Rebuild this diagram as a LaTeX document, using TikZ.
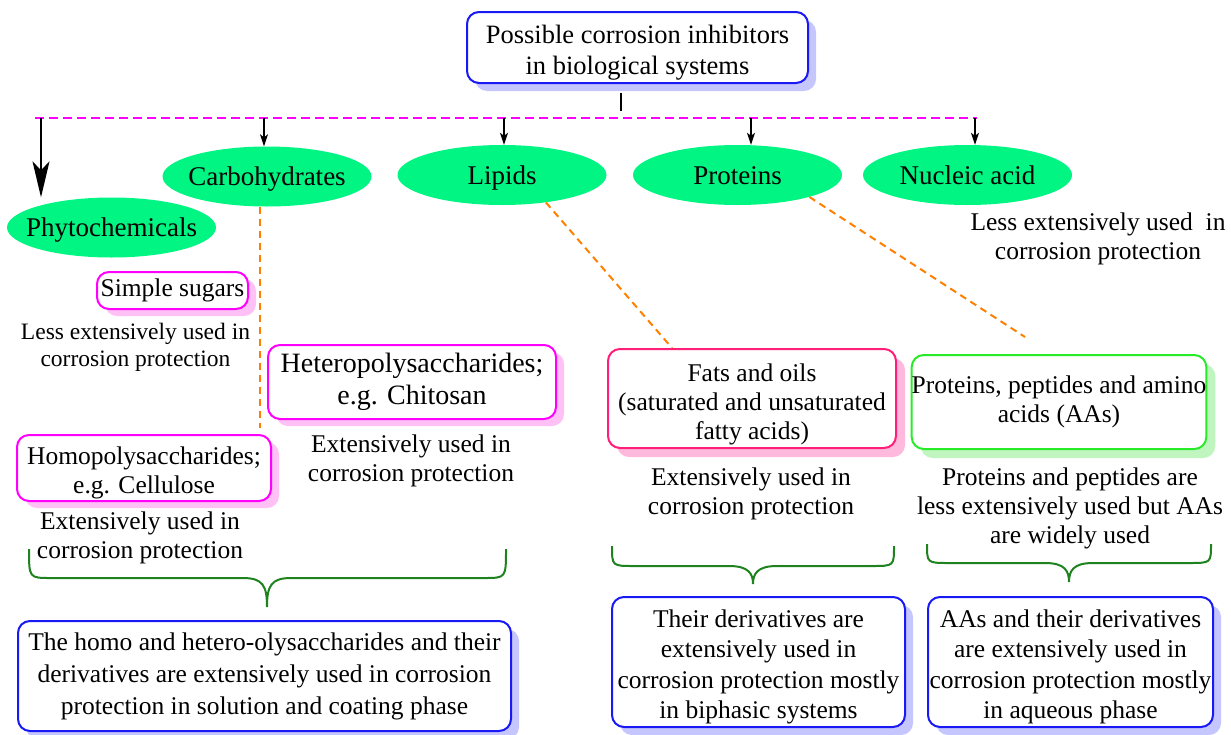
\documentclass[tikz,border=0pt]{standalone}
\usepackage{fontspec}
\setmainfont{Liberation Serif}
\usetikzlibrary{shapes.geometric,arrows.meta,shadows}
\newcommand{\fsz}[2]{\fontsize{#1}{#2}\selectfont}
\newcommand{\elltext}[1]{\makebox[0pt]{\raisebox{-9pt}[0pt][0pt]{#1}}}
\definecolor{bbord}{RGB}{25,25,245}
\definecolor{bshad}{RGB}{198,198,255}
\definecolor{magc}{RGB}{255,0,255}
\definecolor{mshad}{RGB}{255,192,245}
\definecolor{fatc}{RGB}{255,30,120}
\definecolor{fshad}{RGB}{255,185,220}
\definecolor{grc}{RGB}{40,235,40}
\definecolor{gshad}{RGB}{192,245,192}
\definecolor{ellg}{RGB}{0,245,130}
\definecolor{orn}{RGB}{255,128,0}
\definecolor{brg}{RGB}{30,130,30}
\newcommand{\mybrace}[6]{%
  \draw[bracestyle] (#1,#4) .. controls (#1,#5) .. ({#1+22},#5) -- ({#3-24},#5)
    .. controls ({#3-4},#5) and (#3,{#5+8}) .. (#3,#6)
    .. controls (#3,{#5+8}) and ({#3+4},#5) .. ({#3+24},#5) -- ({#2-22},#5)
    .. controls (#2,#5) .. (#2,#4);}
\begin{document}
\begin{tikzpicture}[x=1pt,y=-1pt,
  box/.style={draw, rounded corners=12pt, line width=2pt, fill=white, align=center, inner sep=0pt, font=\fsz{25.5}{29}},
  shb/.style={drop shadow={shadow xshift=8pt, shadow yshift=-8pt, fill=bshad, opacity=1}},
  shm/.style={drop shadow={shadow xshift=8pt, shadow yshift=-7pt, fill=mshad, opacity=1}},
  shf/.style={drop shadow={shadow xshift=9pt, shadow yshift=-9pt, fill=fshad, opacity=1}},
  shg/.style={drop shadow={shadow xshift=9pt, shadow yshift=-9pt, fill=gshad, opacity=1}},
  ell/.style={ellipse, fill=ellg, minimum width=209pt, minimum height=60pt, inner sep=0pt, font=\fsz{27}{30}},
  ann/.style={align=center, inner sep=0pt, font=\fsz{25.5}{29}},
  arr/.style={line width=1.5pt, -{Stealth[length=12pt,width=8pt,inset=3pt]}},
  bigarr/.style={line width=1.5pt, -{Stealth[length=36pt,width=17pt,inset=9pt]}},
  orndash/.style={orn, line width=2pt, dash pattern=on 7pt off 5pt},
  magdash/.style={magc, line width=2pt, dash pattern=on 9pt off 5pt},
  bracestyle/.style={brg, line width=2pt}]
\useasboundingbox (0,0) rectangle (1231,734);

% top box
\node[box, draw=bbord, shb, minimum width=341pt, minimum height=71pt, font=\fsz{26.5}{31}] (top) at (637.5,47.5) {\rule{0pt}{28pt}Possible corrosion inhibitors\\in biological systems};

% ellipses
\node[ell] (phyto) at (111.5,227.5) {\elltext{Phytochemicals}};
\node[ell] (carb) at (267,176.5) {\elltext{Carbohydrates}};
\node[ell] (lip) at (502,175) {\elltext{Lipids}};
\node[ell] (prot) at (737.5,175) {\elltext{Proteins}};
\node[ell] (nuc) at (967.5,175) {\elltext{Nucleic acid}};

% distribution line
\coordinate (hl) at (35,118);
\coordinate (hr) at (977,118);
\coordinate (tj) at (621,111);
\draw[magdash] (hl) -- (hr);
\draw[line width=2pt] ([yshift=-9pt]top.south -| tj) -- (tj);

\coordinate (pa) at (41,118);
\coordinate (ca) at ([xshift=-3pt]carb.north);
\coordinate (la) at ([xshift=2pt]lip.north);
\coordinate (pra) at ([xshift=13.5pt]prot.north);
\coordinate (na) at ([xshift=7.5pt]nuc.north);
\draw[bigarr] (pa) -- (pa |- phyto.north);
\draw[arr] (ca |- hl) -- (ca);
\draw[arr] (la |- hl) -- (la);
\draw[arr] (pra |- hl) -- (pra);
\draw[arr] (na |- hl) -- (na);

% annotation near nucleic acid
\node[ann] (nucA) at (1098,239) {Less extensively used\ \ in\\corrosion protection};

% carbohydrate branch
\node[box, draw=magc, shm, minimum width=151pt, minimum height=37pt] (ss) at (172.5,290.5) {Simple sugars};
\node[ann, font=\fsz{23.5}{27}] (ssA) at (135.5,347.5) {Less extensively used in\\corrosion protection};
\node[box, draw=magc, shm, minimum width=288pt, minimum height=74pt, font=\fsz{28}{32}] (het) at (412,382) {Heteropolysaccharides;\\e.g. Chitosan};
\node[ann] (hetA) at (411,461) {Extensively used in\\corrosion protection};
\node[box, draw=magc, shm, minimum width=254pt, minimum height=66pt] (homo) at (144,468) {\rule{0pt}{27.5pt}Homopolysaccharides;\\e.g. Cellulose};
\node[ann] (homoA) at (140,538) {Extensively used in\\corrosion protection};

% lipid branch
\node[box, draw=fatc, shf, minimum width=288pt, minimum height=99pt] (fats) at (752,398.5) {\rule{0pt}{29pt}Fats and oils\\(saturated and unsaturated\\fatty acids)};
\node[ann] (fatA) at (751,494) {Extensively used in\\corrosion protection};

% protein branch
\node[box, draw=grc, shg, minimum width=288pt, minimum height=94pt] (pbox) at (1059,402) {Proteins, peptides and amino\\acids (AAs)};
\node[ann] (protA) at (1070,508) {Proteins and peptides are\\less extensively used but AAs\\are widely used};

% orange dashed links
\coordinate (c1) at (260,428);
\coordinate (fe) at ([xshift=-80pt]fats.north);
\coordinate (pe) at (1025,337);
\draw[orndash] ([xshift=-7pt]carb.south) -- (c1);
\draw[orndash] (lip.-32) -- (fe);
\draw[orndash] (prot.-17) -- (pe);

% braces
\mybrace{29}{506}{267}{549}{578}{607}
\mybrace{612}{894}{753}{546}{566}{584}
\mybrace{927}{1211}{1069}{544}{563}{582}

% bottom boxes
\node[box, draw=bbord, shb, minimum width=493pt, minimum height=110pt, font=\fsz{25.5}{32}] (bl) at (264.5,676) {The homo and hetero-olysaccharides and their\\derivatives are extensively used in corrosion\\protection in solution and coating phase};
\node[box, draw=bbord, shb, minimum width=293pt, minimum height=130pt, font=\fsz{25.5}{30.5}] (bm) at (758.5,662) {\rule{0pt}{27pt}Their derivatives are\\extensively used in\\corrosion protection mostly\\in biphasic systems};
\node[box, draw=bbord, shb, minimum width=285pt, minimum height=130pt, font=\fsz{25.5}{30.5}] (brb) at (1070.5,662) {\rule{0pt}{27pt}AAs and their derivatives\\are extensively used in\\corrosion protection mostly\\in aqueous phase};
\end{tikzpicture}
\end{document}
